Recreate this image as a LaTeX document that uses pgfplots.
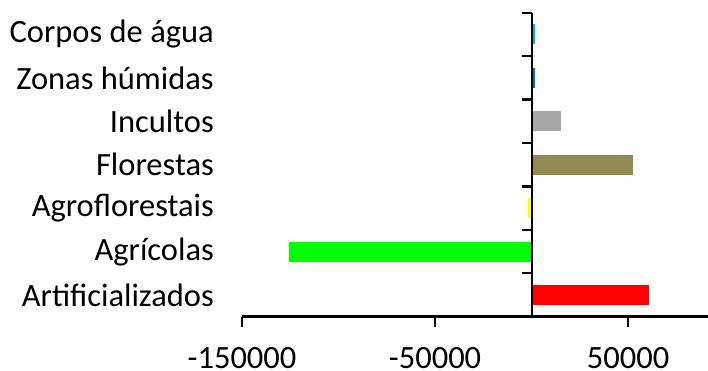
\documentclass[border=0pt]{standalone}
\usepackage{pgfplots}
\pgfplotsset{compat=1.18}
\usepackage{fontspec}
\setmainfont{Carlito}
\definecolor{cred}{HTML}{FF0000}
\definecolor{cgreen}{HTML}{00FF00}
\definecolor{cyellow}{HTML}{FFFF00}
\definecolor{colive}{HTML}{948A54}
\definecolor{cgray}{HTML}{A6A6A6}
\definecolor{cblue}{HTML}{0070C0}
\definecolor{clblue}{HTML}{00B0F0}
\begin{document}
\begin{tikzpicture}
\useasboundingbox (0,0) rectangle (708pt,370pt);
\begin{axis}[
  at={(242pt,53.3pt)}, anchor=south west,
  scale only axis, width=466pt, height=304pt,
  xmin=-150000, xmax=91400, ymin=-0.5, ymax=6.5,
  axis x line=bottom, axis y line=left,
  x axis line style={-, line width=2.5pt},
  y axis line style={draw=none},
  xtick={-150000,-50000,50000},
  xticklabels={-150000,-50000,50000},
  tick align=outside, major tick length=10pt,
  xtick style={line width=2.5pt, black},
  ytick={0,...,6},
  yticklabels={Artificializados,Agrícolas,Agroflorestais,Florestas,Incultos,Zonas húmidas,Corpos de água},
  ytick style={draw=none},
  ticklabel style={font=\fontsize{32.5}{39}\selectfont},
  yticklabel style={anchor=east, inner sep=0pt, xshift=-18pt},
  xticklabel style={anchor=base, inner sep=0pt, text depth=0pt, yshift=-41.5pt},
  scaled x ticks=false,
  xbar, bar width=0.46, bar shift=0pt,
  clip=false,
]
\addplot[fill=cred, draw=none] coordinates {(60900,0)};
\addplot[fill=cgreen, draw=none] coordinates {(-125600,1)};
\addplot[fill=cyellow, draw=none] coordinates {(-1600,2)};
\addplot[fill=colive, draw=none] coordinates {(52600,3)};
\addplot[fill=cgray, draw=none] coordinates {(15300,4)};
\addplot[fill=cblue, draw=none] coordinates {(1800,5)};
\addplot[fill=clblue, draw=none] coordinates {(1800,6)};
\draw[line width=2pt] (axis cs:0,-0.5) -- (axis cs:0,6.5);
\pgfplotsinvokeforeach{0.5,1.5,2.5,3.5,4.5,5.5,6.5}{
  \draw[line width=2.2pt] (axis cs:0,#1) -- ([xshift=-10pt]axis cs:0,#1);
}
\end{axis}
\end{tikzpicture}
\end{document}
